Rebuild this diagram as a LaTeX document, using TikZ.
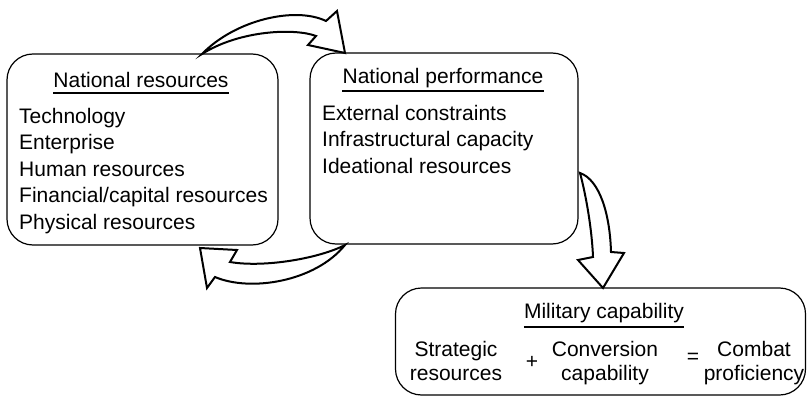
\documentclass[tikz,border=0pt]{standalone}
\usepackage{fontspec}
\setmainfont{Liberation Sans}
\begin{document}
\begin{tikzpicture}[x=1pt,y=-1pt,
  box/.style={draw, line width=1.2pt, rounded corners=26pt, inner sep=0pt},
  blockarrow/.style={draw, line width=2pt, line join=miter, fill=white},
  item/.style={font=\fontsize{21}{25}\selectfont, inner sep=0pt, anchor=base west},
  title/.style={font=\fontsize{21}{25}\selectfont, inner sep=0pt, anchor=base},
  ctext/.style={font=\fontsize{21}{25}\selectfont, inner sep=0pt, anchor=base},
  uline/.style={line width=1.2pt}]
\useasboundingbox (0,0) rectangle (808,396);

% boxes
\node[box, minimum width=271pt, minimum height=191pt] (res) at (142.5,149.5) {};
\node[box, minimum width=268pt, minimum height=191pt] (perf) at (444,148.5) {};
\node[box, minimum width=410pt, minimum height=107pt] (mil) at (600.5,341.5) {};

% national resources
\node[title] (rest) at (141,87) {National resources};
\draw[uline] ([yshift=-6pt]rest.base west) -- ([yshift=-6pt]rest.base east);
\node[item] (r1) at (19,123) {Technology};
\node[item] (r2) at (19,149.5) {Enterprise};
\node[item] (r3) at (19,176) {Human resources};
\node[item] (r4) at (19,202.5) {Financial/capital resources};
\node[item] (r5) at (19,229) {Physical resources};

% national performance
\node[title] (perft) at (443,83) {National performance};
\draw[uline] ([yshift=-8pt]perft.base west) -- ([yshift=-8pt]perft.base east);
\node[item] (p1) at (322,120) {External constraints};
\node[item] (p2) at (322,146.5) {Infrastructural capacity};
\node[item] (p3) at (322,173) {Ideational resources};

% military capability
\node[title] (milt) at (604,318) {Military capability};
\draw[uline] ([yshift=-9pt]milt.base west) -- ([yshift=-9pt]milt.base east);
\node[ctext] (s1) at (456,356) {Strategic};
\node[ctext] (s2) at (456,380) {resources};
\node[ctext] (c1) at (605,356) {Conversion};
\node[ctext] (c2) at (605,380) {capability};
\node[ctext] (k1) at (754,356) {Combat};
\node[ctext] (k2) at (754,380) {proficiency};
\node[font=\fontsize{21}{25}\selectfont, inner sep=0pt] (plus) at (532,362) {+};
\node[font=\fontsize{21}{25}\selectfont, inner sep=0pt] (eq) at (693,358) {=};

% top arrow: resources -> performance
\coordinate (t1) at (202,54);
\coordinate (o1) at (326,21);
\coordinate (b1) at (337,11);
\coordinate (tip1) at (345,53);
\coordinate (b2) at (308,45);
\coordinate (i1) at (316,36);
\draw[blockarrow] (t1) .. controls (235,20) and (295,6) .. (o1) -- (b1) -- (tip1) -- (b2) -- (i1)
  .. controls (295,28) and (240,30) .. (t1) -- cycle;

% bottom arrow: performance -> resources
\coordinate (t2) at (345,245);
\coordinate (i2) at (230,262);
\coordinate (b3) at (237,250);
\coordinate (tip2) at (200,248);
\coordinate (b4) at (207,288);
\coordinate (o2) at (215,277);
\draw[blockarrow] (t2) .. controls (320,258) and (265,268) .. (i2) -- (b3) -- (tip2) -- (b4) -- (o2)
  .. controls (250,292) and (315,282) .. (t2) -- cycle;

% down arrow: performance -> military
\coordinate (t3) at (580,173);
\coordinate (i3) at (593,257);
\coordinate (b5) at (578,260);
\coordinate (tip3) at (603,288);
\coordinate (b6) at (624,253);
\coordinate (o3) at (611,252);
\draw[blockarrow] (t3) .. controls (586,195) and (592,230) .. (i3) -- (b5) -- (tip3) -- (b6) -- (o3)
  .. controls (610,215) and (600,180) .. (t3) -- cycle;
\end{tikzpicture}
\end{document}
